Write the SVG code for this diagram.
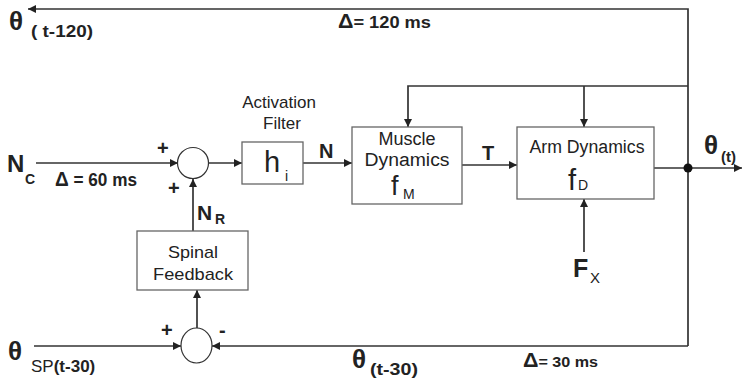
<svg xmlns="http://www.w3.org/2000/svg" width="742" height="380" viewBox="0 0 742 380">
<defs>
<marker id="ah" viewBox="0 0 10 10" refX="10" refY="5" markerWidth="8" markerHeight="8" markerUnits="userSpaceOnUse" orient="auto">
<path d="M0,0 L10,5 L0,10 z" fill="#222"/>
</marker>
</defs>
<style>
.ln{stroke:#333;stroke-width:1.7;fill:none}
.bx{stroke:#666;stroke-width:1.3;fill:#fff}
.sum{stroke:#333;stroke-width:1.2;fill:#fff}
.t{font-family:"Liberation Sans",Arial,sans-serif;fill:#222}
.b{font-family:"Liberation Sans",Arial,sans-serif;font-weight:bold;fill:#222}
</style>
<g id="connectors">
<polyline class="ln" points="688,346 688,9 28,9" marker-end="url(#ah)"/>
<polyline class="ln" points="688,86 408,86 408,127" marker-end="url(#ah)"/>
<line class="ln" x1="584" y1="86" x2="584" y2="127" marker-end="url(#ah)"/>
<line class="ln" x1="36" y1="163" x2="178" y2="163" marker-end="url(#ah)"/>
<line class="ln" x1="208" y1="163" x2="242" y2="163" marker-end="url(#ah)"/>
<line class="ln" x1="303" y1="163" x2="352" y2="163" marker-end="url(#ah)"/>
<line class="ln" x1="462" y1="165" x2="517" y2="165" marker-end="url(#ah)"/>
<line class="ln" x1="654" y1="168" x2="742" y2="168" marker-end="url(#ah)"/>
<line class="ln" x1="584" y1="252" x2="584" y2="199" marker-end="url(#ah)"/>
<line class="ln" x1="193" y1="231" x2="193" y2="179" marker-end="url(#ah)"/>
<line class="ln" x1="197" y1="328" x2="197" y2="290" marker-end="url(#ah)"/>
<line class="ln" x1="34" y1="346" x2="181" y2="346" marker-end="url(#ah)"/>
<line class="ln" x1="688" y1="346" x2="212" y2="346" marker-end="url(#ah)"/>
<circle cx="688" cy="168" r="4.5" fill="#111"/>
</g>
<g id="sum1">
<circle class="sum" cx="193" cy="163" r="15.5"/>
<text class="b" x="157" y="155" font-size="20">+</text>
<text class="b" x="168" y="195" font-size="20">+</text>
</g>
<g id="sum2">
<ellipse class="sum" cx="196.5" cy="345.5" rx="15.5" ry="17.5"/>
<text class="b" x="161" y="337" font-size="20">+</text>
<text class="b" x="219" y="337" font-size="20">-</text>
</g>
<g id="activation-filter">
<text class="t" x="279" y="108" font-size="17" text-anchor="middle">Activation</text>
<text class="t" x="282" y="129" font-size="17" text-anchor="middle">Filter</text>
<rect class="bx" x="242" y="142" width="61" height="42"/>
<text class="t" x="264" y="172" font-size="29">h</text>
<text class="t" x="285" y="181" font-size="14">i</text>
</g>
<g id="muscle-dynamics">
<rect class="bx" x="352" y="127" width="110" height="77"/>
<text class="t" x="407" y="145" font-size="18" text-anchor="middle">Muscle</text>
<text class="t" x="407" y="166" font-size="18" text-anchor="middle" textLength="85" lengthAdjust="spacingAndGlyphs">Dynamics</text>
<text class="t" x="391" y="195" font-size="27">f</text>
<text class="t" x="403" y="199" font-size="14">M</text>
</g>
<g id="arm-dynamics">
<rect class="bx" x="517" y="127" width="137" height="72"/>
<text class="t" x="587" y="153" font-size="18" text-anchor="middle" textLength="115" lengthAdjust="spacingAndGlyphs">Arm Dynamics</text>
<text class="t" x="568" y="190" font-size="29">f</text>
<text class="t" x="578" y="190" font-size="14">D</text>
</g>
<g id="spinal-feedback">
<rect class="bx" x="137" y="231" width="111" height="59"/>
<text class="t" x="193" y="258" font-size="17" text-anchor="middle" textLength="50" lengthAdjust="spacingAndGlyphs">Spinal</text>
<text class="t" x="193" y="280" font-size="17" text-anchor="middle" textLength="80" lengthAdjust="spacingAndGlyphs">Feedback</text>
</g>
<g id="labels">
<text class="b" x="9" y="30" font-size="26">θ</text>
<text class="b" x="31" y="37" font-size="17" textLength="62" lengthAdjust="spacingAndGlyphs">( t-120)</text>
<text class="b" x="338" y="28" font-size="17" textLength="93" lengthAdjust="spacingAndGlyphs"><tspan font-size="20">Δ</tspan>= 120 ms</text>
<text class="b" x="7" y="172" font-size="24">N</text>
<text class="b" x="25" y="184" font-size="14">C</text>
<text class="b" x="55" y="186" font-size="18" textLength="82" lengthAdjust="spacingAndGlyphs"><tspan font-size="20">Δ</tspan> = 60 ms</text>
<text class="b" x="197" y="220" font-size="21">N</text>
<text class="b" x="215" y="224" font-size="14">R</text>
<text class="b" x="319" y="158" font-size="20">N</text>
<text class="b" x="482" y="160" font-size="20">T</text>
<text class="b" x="704" y="154" font-size="26">θ</text>
<text class="b" x="721" y="162" font-size="15">(t)</text>
<text class="b" x="573" y="277" font-size="25">F</text>
<text class="t" x="590" y="283" font-size="15">X</text>
<text class="b" x="8" y="360" font-size="26">θ</text>
<text class="t" x="31" y="372" font-size="17">SP<tspan class="b">(t-30)</tspan></text>
<text class="b" x="352" y="368" font-size="26">θ</text>
<text class="b" x="370" y="375" font-size="17" textLength="48" lengthAdjust="spacingAndGlyphs">(t-30)</text>
<text class="b" x="523" y="367" font-size="15" textLength="75" lengthAdjust="spacingAndGlyphs"><tspan font-size="20">Δ</tspan>= 30 ms</text>
</g>
</svg>
